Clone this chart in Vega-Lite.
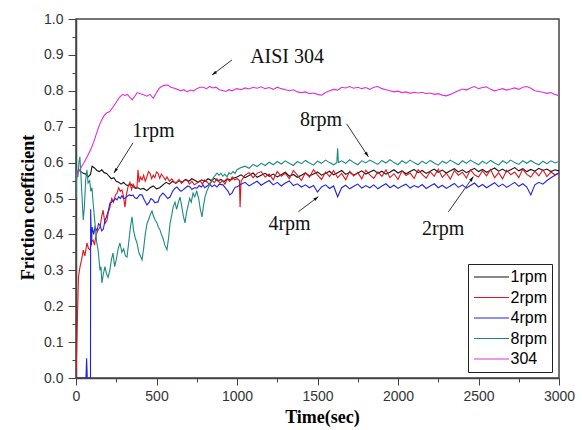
{
"$schema": "https://vega.github.io/schema/vega-lite/v6.json",
"width": 483, "height": 359,
"autosize": {"type": "none"},
"padding": {"left": 76, "top": 19, "right": 23, "bottom": 52},
"background": "white",
"config": {"view": {"stroke": "#444", "strokeWidth": 1.5}, "font": "Liberation Sans"},
"datasets": {
"lines": [
{"s":"1rpm","t":0,"f":0.55},{"s":"1rpm","t":15,"f":0.58},{"s":"1rpm","t":30,"f":0.575},{"s":"1rpm","t":45,"f":0.57},{"s":"1rpm","t":60,"f":0.568},{"s":"1rpm","t":75,"f":0.56},{"s":"1rpm","t":90,"f":0.567},{"s":"1rpm","t":100,"f":0.59},{"s":"1rpm","t":115,"f":0.585},{"s":"1rpm","t":130,"f":0.578},{"s":"1rpm","t":145,"f":0.575},{"s":"1rpm","t":160,"f":0.58},{"s":"1rpm","t":175,"f":0.572},{"s":"1rpm","t":190,"f":0.57},{"s":"1rpm","t":205,"f":0.562},{"s":"1rpm","t":220,"f":0.555},{"s":"1rpm","t":235,"f":0.558},{"s":"1rpm","t":250,"f":0.548},{"s":"1rpm","t":265,"f":0.545},{"s":"1rpm","t":280,"f":0.54},{"s":"1rpm","t":295,"f":0.545},{"s":"1rpm","t":310,"f":0.538},{"s":"1rpm","t":325,"f":0.536},{"s":"1rpm","t":340,"f":0.54},{"s":"1rpm","t":355,"f":0.533},{"s":"1rpm","t":370,"f":0.528},{"s":"1rpm","t":385,"f":0.53},{"s":"1rpm","t":400,"f":0.526},{"s":"1rpm","t":420,"f":0.528},{"s":"1rpm","t":440,"f":0.522},{"s":"1rpm","t":460,"f":0.53},{"s":"1rpm","t":480,"f":0.535},{"s":"1rpm","t":500,"f":0.527},{"s":"1rpm","t":520,"f":0.53},{"s":"1rpm","t":540,"f":0.538},{"s":"1rpm","t":560,"f":0.545},{"s":"1rpm","t":580,"f":0.54},{"s":"1rpm","t":600,"f":0.548},{"s":"1rpm","t":620,"f":0.542},{"s":"1rpm","t":640,"f":0.55},{"s":"1rpm","t":660,"f":0.545},{"s":"1rpm","t":680,"f":0.553},{"s":"1rpm","t":700,"f":0.548},{"s":"1rpm","t":720,"f":0.555},{"s":"1rpm","t":740,"f":0.55},{"s":"1rpm","t":760,"f":0.545},{"s":"1rpm","t":780,"f":0.552},{"s":"1rpm","t":800,"f":0.547},{"s":"1rpm","t":820,"f":0.555},{"s":"1rpm","t":840,"f":0.55},{"s":"1rpm","t":860,"f":0.556},{"s":"1rpm","t":880,"f":0.549},{"s":"1rpm","t":900,"f":0.553},{"s":"1rpm","t":920,"f":0.547},{"s":"1rpm","t":940,"f":0.555},{"s":"1rpm","t":960,"f":0.551},{"s":"1rpm","t":980,"f":0.557},
{"s":"1rpm","t":1000,"f":0.56},{"s":"1rpm","t":1025,"f":0.566},{"s":"1rpm","t":1050,"f":0.558},{"s":"1rpm","t":1075,"f":0.564},{"s":"1rpm","t":1100,"f":0.571},{"s":"1rpm","t":1125,"f":0.559},{"s":"1rpm","t":1150,"f":0.565},{"s":"1rpm","t":1175,"f":0.57},{"s":"1rpm","t":1200,"f":0.562},{"s":"1rpm","t":1225,"f":0.568},{"s":"1rpm","t":1250,"f":0.56},{"s":"1rpm","t":1275,"f":0.566},{"s":"1rpm","t":1300,"f":0.573},{"s":"1rpm","t":1325,"f":0.562},{"s":"1rpm","t":1350,"f":0.567},{"s":"1rpm","t":1375,"f":0.559},{"s":"1rpm","t":1400,"f":0.565},{"s":"1rpm","t":1425,"f":0.571},{"s":"1rpm","t":1450,"f":0.563},{"s":"1rpm","t":1475,"f":0.568},{"s":"1rpm","t":1500,"f":0.574},{"s":"1rpm","t":1525,"f":0.565},{"s":"1rpm","t":1550,"f":0.57},{"s":"1rpm","t":1575,"f":0.576},{"s":"1rpm","t":1600,"f":0.566},{"s":"1rpm","t":1625,"f":0.572},{"s":"1rpm","t":1650,"f":0.578},{"s":"1rpm","t":1675,"f":0.567},{"s":"1rpm","t":1700,"f":0.573},{"s":"1rpm","t":1725,"f":0.565},{"s":"1rpm","t":1750,"f":0.571},{"s":"1rpm","t":1775,"f":0.577},{"s":"1rpm","t":1800,"f":0.568},{"s":"1rpm","t":1825,"f":0.574},{"s":"1rpm","t":1850,"f":0.579},{"s":"1rpm","t":1875,"f":0.57},{"s":"1rpm","t":1900,"f":0.576},{"s":"1rpm","t":1925,"f":0.568},{"s":"1rpm","t":1950,"f":0.573},{"s":"1rpm","t":1975,"f":0.58},{"s":"1rpm","t":2000,"f":0.571},{"s":"1rpm","t":2025,"f":0.577},{"s":"1rpm","t":2050,"f":0.569},{"s":"1rpm","t":2075,"f":0.575},{"s":"1rpm","t":2100,"f":0.581},{"s":"1rpm","t":2125,"f":0.572},{"s":"1rpm","t":2150,"f":0.578},{"s":"1rpm","t":2175,"f":0.57},{"s":"1rpm","t":2200,"f":0.576},{"s":"1rpm","t":2225,"f":0.582},{"s":"1rpm","t":2250,"f":0.573},{"s":"1rpm","t":2275,"f":0.579},{"s":"1rpm","t":2300,"f":0.571},{"s":"1rpm","t":2325,"f":0.577},{"s":"1rpm","t":2350,"f":0.583},{"s":"1rpm","t":2375,"f":0.574},{"s":"1rpm","t":2400,"f":0.58},{"s":"1rpm","t":2425,"f":0.572},{"s":"1rpm","t":2450,"f":0.578},{"s":"1rpm","t":2475,"f":0.584},{"s":"1rpm","t":2500,"f":0.575},{"s":"1rpm","t":2525,"f":0.581},{"s":"1rpm","t":2550,"f":0.573},{"s":"1rpm","t":2575,"f":0.579},{"s":"1rpm","t":2600,"f":0.585},{"s":"1rpm","t":2625,"f":0.576},{"s":"1rpm","t":2650,"f":0.582},{"s":"1rpm","t":2675,"f":0.574},{"s":"1rpm","t":2700,"f":0.58},{"s":"1rpm","t":2725,"f":0.586},{"s":"1rpm","t":2750,"f":0.577},{"s":"1rpm","t":2775,"f":0.583},{"s":"1rpm","t":2800,"f":0.575},{"s":"1rpm","t":2825,"f":0.581},{"s":"1rpm","t":2850,"f":0.576},{"s":"1rpm","t":2875,"f":0.584},{"s":"1rpm","t":2900,"f":0.578},{"s":"1rpm","t":2925,"f":0.582},{"s":"1rpm","t":2950,"f":0.575},{"s":"1rpm","t":2975,"f":0.58},{"s":"1rpm","t":3000,"f":0.577},
{"s":"2rpm","t":0,"f":0.0},{"s":"2rpm","t":8,"f":0.15},{"s":"2rpm","t":15,"f":0.28},{"s":"2rpm","t":25,"f":0.31},{"s":"2rpm","t":35,"f":0.33},{"s":"2rpm","t":45,"f":0.356},{"s":"2rpm","t":55,"f":0.34},{"s":"2rpm","t":68,"f":0.376},{"s":"2rpm","t":78,"f":0.36},{"s":"2rpm","t":87,"f":0.357},{"s":"2rpm","t":97,"f":0.38},{"s":"2rpm","t":106,"f":0.384},{"s":"2rpm","t":115,"f":0.37},{"s":"2rpm","t":125,"f":0.4},{"s":"2rpm","t":135,"f":0.41},{"s":"2rpm","t":149,"f":0.42},{"s":"2rpm","t":160,"f":0.45},{"s":"2rpm","t":168,"f":0.468},{"s":"2rpm","t":180,"f":0.43},{"s":"2rpm","t":193,"f":0.44},{"s":"2rpm","t":200,"f":0.46},{"s":"2rpm","t":211,"f":0.476},{"s":"2rpm","t":222,"f":0.5},{"s":"2rpm","t":233,"f":0.49},{"s":"2rpm","t":245,"f":0.51},{"s":"2rpm","t":255,"f":0.515},{"s":"2rpm","t":265,"f":0.53},{"s":"2rpm","t":275,"f":0.52},{"s":"2rpm","t":286,"f":0.524},{"s":"2rpm","t":295,"f":0.505},{"s":"2rpm","t":304,"f":0.476},{"s":"2rpm","t":313,"f":0.51},{"s":"2rpm","t":323,"f":0.532},{"s":"2rpm","t":335,"f":0.545},{"s":"2rpm","t":345,"f":0.525},{"s":"2rpm","t":355,"f":0.54},{"s":"2rpm","t":367,"f":0.53},{"s":"2rpm","t":379,"f":0.532},{"s":"2rpm","t":385,"f":0.58},{"s":"2rpm","t":392,"f":0.545},{"s":"2rpm","t":400,"f":0.56},{"s":"2rpm","t":410,"f":0.552},{"s":"2rpm","t":420,"f":0.565},{"s":"2rpm","t":430,"f":0.548},{"s":"2rpm","t":440,"f":0.56},{"s":"2rpm","t":450,"f":0.575},{"s":"2rpm","t":460,"f":0.57},{"s":"2rpm","t":470,"f":0.555},{"s":"2rpm","t":480,"f":0.565},{"s":"2rpm","t":490,"f":0.558},{"s":"2rpm","t":500,"f":0.574},{"s":"2rpm","t":510,"f":0.57},{"s":"2rpm","t":520,"f":0.556},{"s":"2rpm","t":530,"f":0.568},{"s":"2rpm","t":540,"f":0.562},{"s":"2rpm","t":555,"f":0.552},{"s":"2rpm","t":565,"f":0.56},{"s":"2rpm","t":580,"f":0.548},{"s":"2rpm","t":595,"f":0.555},{"s":"2rpm","t":610,"f":0.545},{"s":"2rpm","t":627,"f":0.546},{"s":"2rpm","t":640,"f":0.553},{"s":"2rpm","t":655,"f":0.542},{"s":"2rpm","t":670,"f":0.55},{"s":"2rpm","t":689,"f":0.552},{"s":"2rpm","t":705,"f":0.54},{"s":"2rpm","t":720,"f":0.548},{"s":"2rpm","t":735,"f":0.538},{"s":"2rpm","t":752,"f":0.543},{"s":"2rpm","t":770,"f":0.55},{"s":"2rpm","t":785,"f":0.54},{"s":"2rpm","t":800,"f":0.552},{"s":"2rpm","t":814,"f":0.546},{"s":"2rpm","t":830,"f":0.538},{"s":"2rpm","t":845,"f":0.55},{"s":"2rpm","t":860,"f":0.544},{"s":"2rpm","t":875,"f":0.555},{"s":"2rpm","t":894,"f":0.543},{"s":"2rpm","t":910,"f":0.55},{"s":"2rpm","t":925,"f":0.54},{"s":"2rpm","t":940,"f":0.555},{"s":"2rpm","t":955,"f":0.548},{"s":"2rpm","t":970,"f":0.56},{"s":"2rpm","t":985,"f":0.552},
{"s":"2rpm","t":1000,"f":0.555},{"s":"2rpm","t":1015,"f":0.55},{"s":"2rpm","t":1019,"f":0.476},{"s":"2rpm","t":1025,"f":0.548},{"s":"2rpm","t":1050,"f":0.565},{"s":"2rpm","t":1075,"f":0.572},{"s":"2rpm","t":1100,"f":0.558},{"s":"2rpm","t":1125,"f":0.57},{"s":"2rpm","t":1150,"f":0.575},{"s":"2rpm","t":1175,"f":0.56},{"s":"2rpm","t":1200,"f":0.568},{"s":"2rpm","t":1225,"f":0.552},{"s":"2rpm","t":1250,"f":0.575},{"s":"2rpm","t":1275,"f":0.562},{"s":"2rpm","t":1300,"f":0.57},{"s":"2rpm","t":1325,"f":0.555},{"s":"2rpm","t":1350,"f":0.578},{"s":"2rpm","t":1375,"f":0.565},{"s":"2rpm","t":1400,"f":0.55},{"s":"2rpm","t":1425,"f":0.572},{"s":"2rpm","t":1450,"f":0.56},{"s":"2rpm","t":1475,"f":0.58},{"s":"2rpm","t":1500,"f":0.566},{"s":"2rpm","t":1525,"f":0.553},{"s":"2rpm","t":1550,"f":0.574},{"s":"2rpm","t":1575,"f":0.561},{"s":"2rpm","t":1600,"f":0.578},{"s":"2rpm","t":1625,"f":0.558},{"s":"2rpm","t":1650,"f":0.57},{"s":"2rpm","t":1675,"f":0.552},{"s":"2rpm","t":1700,"f":0.576},{"s":"2rpm","t":1725,"f":0.563},{"s":"2rpm","t":1750,"f":0.572},{"s":"2rpm","t":1775,"f":0.555},{"s":"2rpm","t":1800,"f":0.579},{"s":"2rpm","t":1825,"f":0.566},{"s":"2rpm","t":1850,"f":0.556},{"s":"2rpm","t":1875,"f":0.574},{"s":"2rpm","t":1900,"f":0.562},{"s":"2rpm","t":1925,"f":0.58},{"s":"2rpm","t":1950,"f":0.558},{"s":"2rpm","t":1975,"f":0.569},{"s":"2rpm","t":2000,"f":0.553},{"s":"2rpm","t":2025,"f":0.577},{"s":"2rpm","t":2050,"f":0.564},{"s":"2rpm","t":2075,"f":0.571},{"s":"2rpm","t":2100,"f":0.556},{"s":"2rpm","t":2125,"f":0.58},{"s":"2rpm","t":2150,"f":0.567},{"s":"2rpm","t":2175,"f":0.557},{"s":"2rpm","t":2200,"f":0.575},{"s":"2rpm","t":2225,"f":0.562},{"s":"2rpm","t":2250,"f":0.582},{"s":"2rpm","t":2275,"f":0.559},{"s":"2rpm","t":2300,"f":0.571},{"s":"2rpm","t":2325,"f":0.554},{"s":"2rpm","t":2350,"f":0.578},{"s":"2rpm","t":2375,"f":0.565},{"s":"2rpm","t":2400,"f":0.573},{"s":"2rpm","t":2425,"f":0.557},{"s":"2rpm","t":2450,"f":0.58},{"s":"2rpm","t":2475,"f":0.566},{"s":"2rpm","t":2500,"f":0.56},{"s":"2rpm","t":2525,"f":0.577},{"s":"2rpm","t":2550,"f":0.563},{"s":"2rpm","t":2575,"f":0.581},{"s":"2rpm","t":2600,"f":0.558},{"s":"2rpm","t":2625,"f":0.572},{"s":"2rpm","t":2650,"f":0.555},{"s":"2rpm","t":2675,"f":0.579},{"s":"2rpm","t":2700,"f":0.566},{"s":"2rpm","t":2725,"f":0.574},{"s":"2rpm","t":2750,"f":0.558},{"s":"2rpm","t":2775,"f":0.582},{"s":"2rpm","t":2800,"f":0.567},{"s":"2rpm","t":2825,"f":0.56},{"s":"2rpm","t":2850,"f":0.576},{"s":"2rpm","t":2875,"f":0.563},{"s":"2rpm","t":2900,"f":0.58},{"s":"2rpm","t":2925,"f":0.561},{"s":"2rpm","t":2950,"f":0.574},{"s":"2rpm","t":2975,"f":0.566},{"s":"2rpm","t":3000,"f":0.57},
{"s":"4rpm","t":0,"f":0.0},{"s":"4rpm","t":62,"f":0.0},{"s":"4rpm","t":66,"f":0.055},{"s":"4rpm","t":70,"f":0.0},{"s":"4rpm","t":90,"f":0.0},{"s":"4rpm","t":91,"f":0.47},{"s":"4rpm","t":96,"f":0.37},{"s":"4rpm","t":100,"f":0.42},{"s":"4rpm","t":110,"f":0.4},{"s":"4rpm","t":118,"f":0.42},{"s":"4rpm","t":130,"f":0.41},{"s":"4rpm","t":140,"f":0.43},{"s":"4rpm","t":150,"f":0.425},{"s":"4rpm","t":160,"f":0.41},{"s":"4rpm","t":170,"f":0.415},{"s":"4rpm","t":180,"f":0.44},{"s":"4rpm","t":190,"f":0.45},{"s":"4rpm","t":200,"f":0.465},{"s":"4rpm","t":211,"f":0.487},{"s":"4rpm","t":222,"f":0.49},{"s":"4rpm","t":235,"f":0.495},{"s":"4rpm","t":245,"f":0.5},{"s":"4rpm","t":255,"f":0.496},{"s":"4rpm","t":265,"f":0.505},{"s":"4rpm","t":275,"f":0.5},{"s":"4rpm","t":285,"f":0.508},{"s":"4rpm","t":295,"f":0.5},{"s":"4rpm","t":304,"f":0.5},{"s":"4rpm","t":315,"f":0.505},{"s":"4rpm","t":330,"f":0.51},{"s":"4rpm","t":345,"f":0.508},{"s":"4rpm","t":354,"f":0.51},{"s":"4rpm","t":365,"f":0.502},{"s":"4rpm","t":379,"f":0.5},{"s":"4rpm","t":395,"f":0.51},{"s":"4rpm","t":410,"f":0.51},{"s":"4rpm","t":425,"f":0.495},{"s":"4rpm","t":441,"f":0.482},{"s":"4rpm","t":455,"f":0.49},{"s":"4rpm","t":465,"f":0.5},{"s":"4rpm","t":478,"f":0.496},{"s":"4rpm","t":490,"f":0.488},{"s":"4rpm","t":500,"f":0.49},{"s":"4rpm","t":509,"f":0.49},{"s":"4rpm","t":520,"f":0.505},{"s":"4rpm","t":530,"f":0.51},{"s":"4rpm","t":540,"f":0.515},{"s":"4rpm","t":555,"f":0.508},{"s":"4rpm","t":570,"f":0.5},{"s":"4rpm","t":584,"f":0.504},{"s":"4rpm","t":600,"f":0.52},{"s":"4rpm","t":613,"f":0.528},{"s":"4rpm","t":627,"f":0.532},{"s":"4rpm","t":640,"f":0.525},{"s":"4rpm","t":652,"f":0.52},{"s":"4rpm","t":665,"f":0.524},{"s":"4rpm","t":680,"f":0.53},{"s":"4rpm","t":695,"f":0.535},{"s":"4rpm","t":708,"f":0.532},{"s":"4rpm","t":720,"f":0.525},{"s":"4rpm","t":735,"f":0.53},{"s":"4rpm","t":752,"f":0.529},{"s":"4rpm","t":765,"f":0.536},{"s":"4rpm","t":778,"f":0.532},{"s":"4rpm","t":789,"f":0.538},{"s":"4rpm","t":800,"f":0.53},{"s":"4rpm","t":815,"f":0.535},{"s":"4rpm","t":830,"f":0.54},{"s":"4rpm","t":845,"f":0.533},{"s":"4rpm","t":860,"f":0.538},{"s":"4rpm","t":875,"f":0.532},{"s":"4rpm","t":890,"f":0.54},{"s":"4rpm","t":913,"f":0.538},{"s":"4rpm","t":930,"f":0.528},{"s":"4rpm","t":945,"f":0.52},{"s":"4rpm","t":955,"f":0.51},{"s":"4rpm","t":969,"f":0.515},{"s":"4rpm","t":980,"f":0.525},{"s":"4rpm","t":990,"f":0.532},
{"s":"4rpm","t":1000,"f":0.532},{"s":"4rpm","t":1025,"f":0.54},{"s":"4rpm","t":1050,"f":0.545},{"s":"4rpm","t":1075,"f":0.535},{"s":"4rpm","t":1100,"f":0.542},{"s":"4rpm","t":1125,"f":0.548},{"s":"4rpm","t":1150,"f":0.537},{"s":"4rpm","t":1175,"f":0.544},{"s":"4rpm","t":1200,"f":0.55},{"s":"4rpm","t":1225,"f":0.538},{"s":"4rpm","t":1250,"f":0.545},{"s":"4rpm","t":1275,"f":0.535},{"s":"4rpm","t":1300,"f":0.543},{"s":"4rpm","t":1325,"f":0.549},{"s":"4rpm","t":1350,"f":0.536},{"s":"4rpm","t":1375,"f":0.541},{"s":"4rpm","t":1400,"f":0.532},{"s":"4rpm","t":1425,"f":0.538},{"s":"4rpm","t":1450,"f":0.53},{"s":"4rpm","t":1475,"f":0.536},{"s":"4rpm","t":1500,"f":0.518},{"s":"4rpm","t":1525,"f":0.532},{"s":"4rpm","t":1550,"f":0.538},{"s":"4rpm","t":1575,"f":0.528},{"s":"4rpm","t":1600,"f":0.535},{"s":"4rpm","t":1625,"f":0.505},{"s":"4rpm","t":1650,"f":0.53},{"s":"4rpm","t":1675,"f":0.537},{"s":"4rpm","t":1700,"f":0.527},{"s":"4rpm","t":1725,"f":0.534},{"s":"4rpm","t":1750,"f":0.54},{"s":"4rpm","t":1775,"f":0.529},{"s":"4rpm","t":1800,"f":0.536},{"s":"4rpm","t":1825,"f":0.53},{"s":"4rpm","t":1850,"f":0.538},{"s":"4rpm","t":1875,"f":0.527},{"s":"4rpm","t":1900,"f":0.535},{"s":"4rpm","t":1925,"f":0.541},{"s":"4rpm","t":1950,"f":0.53},{"s":"4rpm","t":1975,"f":0.537},{"s":"4rpm","t":2000,"f":0.528},{"s":"4rpm","t":2025,"f":0.535},{"s":"4rpm","t":2050,"f":0.54},{"s":"4rpm","t":2075,"f":0.529},{"s":"4rpm","t":2100,"f":0.536},{"s":"4rpm","t":2125,"f":0.531},{"s":"4rpm","t":2150,"f":0.539},{"s":"4rpm","t":2175,"f":0.528},{"s":"4rpm","t":2200,"f":0.535},{"s":"4rpm","t":2225,"f":0.541},{"s":"4rpm","t":2250,"f":0.53},{"s":"4rpm","t":2275,"f":0.537},{"s":"4rpm","t":2300,"f":0.528},{"s":"4rpm","t":2325,"f":0.535},{"s":"4rpm","t":2350,"f":0.542},{"s":"4rpm","t":2375,"f":0.531},{"s":"4rpm","t":2400,"f":0.538},{"s":"4rpm","t":2425,"f":0.529},{"s":"4rpm","t":2450,"f":0.536},{"s":"4rpm","t":2475,"f":0.543},{"s":"4rpm","t":2500,"f":0.532},{"s":"4rpm","t":2525,"f":0.539},{"s":"4rpm","t":2550,"f":0.53},{"s":"4rpm","t":2575,"f":0.537},{"s":"4rpm","t":2600,"f":0.544},{"s":"4rpm","t":2625,"f":0.533},{"s":"4rpm","t":2650,"f":0.54},{"s":"4rpm","t":2675,"f":0.531},{"s":"4rpm","t":2700,"f":0.538},{"s":"4rpm","t":2725,"f":0.545},{"s":"4rpm","t":2750,"f":0.534},{"s":"4rpm","t":2775,"f":0.541},{"s":"4rpm","t":2800,"f":0.532},{"s":"4rpm","t":2825,"f":0.51},{"s":"4rpm","t":2850,"f":0.538},{"s":"4rpm","t":2875,"f":0.545},{"s":"4rpm","t":2900,"f":0.54},{"s":"4rpm","t":2925,"f":0.55},{"s":"4rpm","t":2950,"f":0.558},{"s":"4rpm","t":2975,"f":0.565},{"s":"4rpm","t":3000,"f":0.572},
{"s":"8rpm","t":0,"f":0.5},{"s":"8rpm","t":5,"f":0.58},{"s":"8rpm","t":12,"f":0.56},{"s":"8rpm","t":18,"f":0.6},{"s":"8rpm","t":24,"f":0.616},{"s":"8rpm","t":30,"f":0.57},{"s":"8rpm","t":38,"f":0.5},{"s":"8rpm","t":45,"f":0.44},{"s":"8rpm","t":52,"f":0.476},{"s":"8rpm","t":60,"f":0.55},{"s":"8rpm","t":68,"f":0.58},{"s":"8rpm","t":75,"f":0.543},{"s":"8rpm","t":85,"f":0.55},{"s":"8rpm","t":92,"f":0.52},{"s":"8rpm","t":99,"f":0.53},{"s":"8rpm","t":108,"f":0.48},{"s":"8rpm","t":118,"f":0.43},{"s":"8rpm","t":128,"f":0.38},{"s":"8rpm","t":137,"f":0.357},{"s":"8rpm","t":143,"f":0.33},{"s":"8rpm","t":149,"f":0.3},{"s":"8rpm","t":155,"f":0.31},{"s":"8rpm","t":161,"f":0.265},{"s":"8rpm","t":170,"f":0.29},{"s":"8rpm","t":180,"f":0.31},{"s":"8rpm","t":190,"f":0.29},{"s":"8rpm","t":199,"f":0.28},{"s":"8rpm","t":210,"f":0.3},{"s":"8rpm","t":220,"f":0.33},{"s":"8rpm","t":230,"f":0.348},{"s":"8rpm","t":240,"f":0.31},{"s":"8rpm","t":250,"f":0.33},{"s":"8rpm","t":262,"f":0.36},{"s":"8rpm","t":273,"f":0.376},{"s":"8rpm","t":285,"f":0.35},{"s":"8rpm","t":296,"f":0.36},{"s":"8rpm","t":307,"f":0.34},{"s":"8rpm","t":317,"f":0.337},{"s":"8rpm","t":328,"f":0.38},{"s":"8rpm","t":338,"f":0.42},{"s":"8rpm","t":348,"f":0.449},{"s":"8rpm","t":358,"f":0.41},{"s":"8rpm","t":368,"f":0.39},{"s":"8rpm","t":379,"f":0.376},{"s":"8rpm","t":390,"f":0.35},{"s":"8rpm","t":400,"f":0.34},{"s":"8rpm","t":410,"f":0.329},{"s":"8rpm","t":420,"f":0.36},{"s":"8rpm","t":430,"f":0.4},{"s":"8rpm","t":441,"f":0.43},{"s":"8rpm","t":450,"f":0.44},{"s":"8rpm","t":461,"f":0.455},{"s":"8rpm","t":472,"f":0.465},{"s":"8rpm","t":482,"f":0.45},{"s":"8rpm","t":492,"f":0.44},{"s":"8rpm","t":503,"f":0.432},{"s":"8rpm","t":512,"f":0.42},{"s":"8rpm","t":522,"f":0.412},{"s":"8rpm","t":530,"f":0.4},{"s":"8rpm","t":540,"f":0.39},{"s":"8rpm","t":552,"f":0.37},{"s":"8rpm","t":565,"f":0.357},{"s":"8rpm","t":575,"f":0.39},{"s":"8rpm","t":584,"f":0.43},{"s":"8rpm","t":595,"f":0.455},{"s":"8rpm","t":603,"f":0.476},{"s":"8rpm","t":615,"f":0.49},{"s":"8rpm","t":625,"f":0.47},{"s":"8rpm","t":636,"f":0.49},{"s":"8rpm","t":646,"f":0.504},{"s":"8rpm","t":656,"f":0.48},{"s":"8rpm","t":667,"f":0.45},{"s":"8rpm","t":677,"f":0.432},{"s":"8rpm","t":686,"f":0.46},{"s":"8rpm","t":696,"f":0.48},{"s":"8rpm","t":706,"f":0.5},{"s":"8rpm","t":716,"f":0.49},{"s":"8rpm","t":727,"f":0.515},{"s":"8rpm","t":737,"f":0.505},{"s":"8rpm","t":750,"f":0.52},{"s":"8rpm","t":762,"f":0.5},{"s":"8rpm","t":772,"f":0.47},{"s":"8rpm","t":783,"f":0.449},{"s":"8rpm","t":792,"f":0.48},{"s":"8rpm","t":801,"f":0.504},{"s":"8rpm","t":812,"f":0.52},{"s":"8rpm","t":822,"f":0.53},{"s":"8rpm","t":832,"f":0.543},{"s":"8rpm","t":845,"f":0.55},{"s":"8rpm","t":855,"f":0.56},{"s":"8rpm","t":866,"f":0.565},{"s":"8rpm","t":876,"f":0.571},{"s":"8rpm","t":888,"f":0.565},{"s":"8rpm","t":900,"f":0.57},{"s":"8rpm","t":913,"f":0.562},{"s":"8rpm","t":925,"f":0.568},{"s":"8rpm","t":938,"f":0.56},{"s":"8rpm","t":950,"f":0.572},{"s":"8rpm","t":962,"f":0.568},{"s":"8rpm","t":975,"f":0.575},{"s":"8rpm","t":988,"f":0.57},
{"s":"8rpm","t":1000,"f":0.58},{"s":"8rpm","t":1025,"f":0.586},{"s":"8rpm","t":1050,"f":0.59},{"s":"8rpm","t":1075,"f":0.584},{"s":"8rpm","t":1100,"f":0.595},{"s":"8rpm","t":1125,"f":0.589},{"s":"8rpm","t":1150,"f":0.598},{"s":"8rpm","t":1175,"f":0.592},{"s":"8rpm","t":1200,"f":0.601},{"s":"8rpm","t":1225,"f":0.594},{"s":"8rpm","t":1250,"f":0.603},{"s":"8rpm","t":1275,"f":0.596},{"s":"8rpm","t":1300,"f":0.605},{"s":"8rpm","t":1325,"f":0.598},{"s":"8rpm","t":1350,"f":0.592},{"s":"8rpm","t":1375,"f":0.603},{"s":"8rpm","t":1400,"f":0.597},{"s":"8rpm","t":1425,"f":0.606},{"s":"8rpm","t":1450,"f":0.599},{"s":"8rpm","t":1475,"f":0.593},{"s":"8rpm","t":1500,"f":0.604},{"s":"8rpm","t":1525,"f":0.598},{"s":"8rpm","t":1550,"f":0.607},{"s":"8rpm","t":1575,"f":0.6},{"s":"8rpm","t":1600,"f":0.594},{"s":"8rpm","t":1620,"f":0.6},{"s":"8rpm","t":1625,"f":0.64},{"s":"8rpm","t":1630,"f":0.6},{"s":"8rpm","t":1650,"f":0.605},{"s":"8rpm","t":1675,"f":0.598},{"s":"8rpm","t":1700,"f":0.608},{"s":"8rpm","t":1725,"f":0.6},{"s":"8rpm","t":1750,"f":0.594},{"s":"8rpm","t":1775,"f":0.605},{"s":"8rpm","t":1800,"f":0.599},{"s":"8rpm","t":1825,"f":0.607},{"s":"8rpm","t":1850,"f":0.601},{"s":"8rpm","t":1875,"f":0.595},{"s":"8rpm","t":1900,"f":0.606},{"s":"8rpm","t":1925,"f":0.599},{"s":"8rpm","t":1950,"f":0.608},{"s":"8rpm","t":1975,"f":0.6},{"s":"8rpm","t":2000,"f":0.594},{"s":"8rpm","t":2025,"f":0.605},{"s":"8rpm","t":2050,"f":0.598},{"s":"8rpm","t":2075,"f":0.607},{"s":"8rpm","t":2100,"f":0.6},{"s":"8rpm","t":2125,"f":0.594},{"s":"8rpm","t":2150,"f":0.604},{"s":"8rpm","t":2175,"f":0.597},{"s":"8rpm","t":2200,"f":0.606},{"s":"8rpm","t":2225,"f":0.599},{"s":"8rpm","t":2250,"f":0.593},{"s":"8rpm","t":2275,"f":0.604},{"s":"8rpm","t":2300,"f":0.598},{"s":"8rpm","t":2325,"f":0.607},{"s":"8rpm","t":2350,"f":0.6},{"s":"8rpm","t":2375,"f":0.594},{"s":"8rpm","t":2400,"f":0.605},{"s":"8rpm","t":2425,"f":0.598},{"s":"8rpm","t":2450,"f":0.607},{"s":"8rpm","t":2475,"f":0.6},{"s":"8rpm","t":2500,"f":0.594},{"s":"8rpm","t":2525,"f":0.604},{"s":"8rpm","t":2550,"f":0.597},{"s":"8rpm","t":2575,"f":0.606},{"s":"8rpm","t":2600,"f":0.599},{"s":"8rpm","t":2625,"f":0.593},{"s":"8rpm","t":2650,"f":0.605},{"s":"8rpm","t":2675,"f":0.598},{"s":"8rpm","t":2700,"f":0.607},{"s":"8rpm","t":2725,"f":0.6},{"s":"8rpm","t":2750,"f":0.595},{"s":"8rpm","t":2775,"f":0.605},{"s":"8rpm","t":2800,"f":0.598},{"s":"8rpm","t":2825,"f":0.606},{"s":"8rpm","t":2850,"f":0.599},{"s":"8rpm","t":2875,"f":0.594},{"s":"8rpm","t":2900,"f":0.604},{"s":"8rpm","t":2925,"f":0.597},{"s":"8rpm","t":2950,"f":0.605},{"s":"8rpm","t":2975,"f":0.599},{"s":"8rpm","t":3000,"f":0.603},
{"s":"304","t":0,"f":0.56},{"s":"304","t":15,"f":0.575},{"s":"304","t":30,"f":0.585},{"s":"304","t":50,"f":0.6},{"s":"304","t":70,"f":0.617},{"s":"304","t":90,"f":0.635},{"s":"304","t":110,"f":0.657},{"s":"304","t":130,"f":0.685},{"s":"304","t":150,"f":0.71},{"s":"304","t":170,"f":0.728},{"s":"304","t":190,"f":0.738},{"s":"304","t":210,"f":0.742},{"s":"304","t":230,"f":0.755},{"s":"304","t":250,"f":0.768},{"s":"304","t":270,"f":0.782},{"s":"304","t":290,"f":0.79},{"s":"304","t":305,"f":0.787},{"s":"304","t":320,"f":0.79},{"s":"304","t":335,"f":0.782},{"s":"304","t":350,"f":0.775},{"s":"304","t":365,"f":0.785},{"s":"304","t":380,"f":0.795},{"s":"304","t":400,"f":0.792},{"s":"304","t":420,"f":0.789},{"s":"304","t":440,"f":0.785},{"s":"304","t":460,"f":0.79},{"s":"304","t":480,"f":0.779},{"s":"304","t":500,"f":0.795},{"s":"304","t":515,"f":0.806},{"s":"304","t":530,"f":0.812},{"s":"304","t":550,"f":0.815},{"s":"304","t":570,"f":0.816},{"s":"304","t":590,"f":0.81},{"s":"304","t":610,"f":0.807},{"s":"304","t":630,"f":0.804},{"s":"304","t":650,"f":0.8},{"s":"304","t":670,"f":0.803},{"s":"304","t":690,"f":0.797},{"s":"304","t":710,"f":0.802},{"s":"304","t":730,"f":0.8},{"s":"304","t":750,"f":0.806},{"s":"304","t":770,"f":0.81},{"s":"304","t":790,"f":0.81},{"s":"304","t":810,"f":0.806},{"s":"304","t":830,"f":0.812},{"s":"304","t":850,"f":0.808},{"s":"304","t":870,"f":0.81},{"s":"304","t":890,"f":0.803},{"s":"304","t":910,"f":0.801},{"s":"304","t":930,"f":0.798},{"s":"304","t":950,"f":0.803},{"s":"304","t":970,"f":0.8},{"s":"304","t":990,"f":0.805},
{"s":"304","t":1000,"f":0.806},{"s":"304","t":1025,"f":0.803},{"s":"304","t":1050,"f":0.808},{"s":"304","t":1075,"f":0.805},{"s":"304","t":1100,"f":0.81},{"s":"304","t":1125,"f":0.807},{"s":"304","t":1150,"f":0.811},{"s":"304","t":1175,"f":0.806},{"s":"304","t":1200,"f":0.809},{"s":"304","t":1225,"f":0.804},{"s":"304","t":1250,"f":0.81},{"s":"304","t":1275,"f":0.806},{"s":"304","t":1300,"f":0.803},{"s":"304","t":1325,"f":0.8},{"s":"304","t":1350,"f":0.803},{"s":"304","t":1375,"f":0.797},{"s":"304","t":1400,"f":0.795},{"s":"304","t":1425,"f":0.797},{"s":"304","t":1450,"f":0.792},{"s":"304","t":1475,"f":0.794},{"s":"304","t":1500,"f":0.79},{"s":"304","t":1525,"f":0.788},{"s":"304","t":1550,"f":0.795},{"s":"304","t":1575,"f":0.8},{"s":"304","t":1600,"f":0.804},{"s":"304","t":1625,"f":0.802},{"s":"304","t":1650,"f":0.81},{"s":"304","t":1675,"f":0.808},{"s":"304","t":1700,"f":0.812},{"s":"304","t":1725,"f":0.807},{"s":"304","t":1750,"f":0.81},{"s":"304","t":1775,"f":0.806},{"s":"304","t":1800,"f":0.809},{"s":"304","t":1825,"f":0.804},{"s":"304","t":1850,"f":0.81},{"s":"304","t":1875,"f":0.812},{"s":"304","t":1900,"f":0.806},{"s":"304","t":1925,"f":0.803},{"s":"304","t":1950,"f":0.8},{"s":"304","t":1975,"f":0.797},{"s":"304","t":2000,"f":0.799},{"s":"304","t":2025,"f":0.795},{"s":"304","t":2050,"f":0.797},{"s":"304","t":2075,"f":0.793},{"s":"304","t":2100,"f":0.796},{"s":"304","t":2125,"f":0.794},{"s":"304","t":2150,"f":0.796},{"s":"304","t":2175,"f":0.792},{"s":"304","t":2200,"f":0.794},{"s":"304","t":2225,"f":0.79},{"s":"304","t":2250,"f":0.792},{"s":"304","t":2275,"f":0.788},{"s":"304","t":2300,"f":0.786},{"s":"304","t":2325,"f":0.79},{"s":"304","t":2350,"f":0.795},{"s":"304","t":2375,"f":0.8},{"s":"304","t":2400,"f":0.805},{"s":"304","t":2425,"f":0.802},{"s":"304","t":2450,"f":0.808},{"s":"304","t":2475,"f":0.812},{"s":"304","t":2500,"f":0.806},{"s":"304","t":2525,"f":0.809},{"s":"304","t":2550,"f":0.811},{"s":"304","t":2575,"f":0.804},{"s":"304","t":2600,"f":0.8},{"s":"304","t":2625,"f":0.803},{"s":"304","t":2650,"f":0.806},{"s":"304","t":2675,"f":0.802},{"s":"304","t":2700,"f":0.805},{"s":"304","t":2725,"f":0.808},{"s":"304","t":2750,"f":0.804},{"s":"304","t":2775,"f":0.81},{"s":"304","t":2800,"f":0.812},{"s":"304","t":2825,"f":0.807},{"s":"304","t":2850,"f":0.8},{"s":"304","t":2875,"f":0.798},{"s":"304","t":2900,"f":0.796},{"s":"304","t":2925,"f":0.793},{"s":"304","t":2950,"f":0.795},{"s":"304","t":2975,"f":0.79},{"s":"304","t":3000,"f":0.786}
],
"ann": [
{"label":"AISI 304","lt":1311,"lf":0.877,"t":969,"f":0.886,"t2":845,"f2":0.844},
{"label":"1rpm","lt":481,"lf":0.671,"t":354,"f":0.655,"t2":236,"f2":0.571},
{"label":"8rpm","lt":1522,"lf":0.702,"t":1681,"f":0.708,"t2":1816,"f2":0.616},
{"label":"4rpm","lt":1326,"lf":0.412,"t":1381,"f":0.463,"t2":1505,"f2":0.505},
{"label":"2rpm","lt":2280,"lf":0.398,"t":2313,"f":0.463,"t2":2468,"f2":0.561}
]
},
"layer": [
{
"data": {"name": "lines"},
"mark": {"type": "line", "strokeWidth": 1.1, "clip": true},
"encoding": {
"x": {"field": "t", "type": "quantitative", "scale": {"domain": [0, 3000], "nice": false, "zero": false},
"axis": {"orient": "bottom", "values": [0, 500, 1000, 1500, 2000, 2500, 3000], "format": "d", "title": "Time(sec)",
"titleFont": "Liberation Serif", "titleFontSize": 18, "titleFontWeight": "bold", "titleColor": "#000", "titleY": 44, "titleX": 246, "titleBaseline": "alphabetic",
"labelFont": "Liberation Sans", "labelFontSize": 14, "labelColor": "#333", "labelBaseline": "alphabetic", "labelPadding": 15, "labelFlush": false, "labelOverlap": false,
"tickSize": 7, "tickColor": "#444", "tickWidth": 1, "domainColor": "#444", "domainWidth": 1.5, "grid": false}},
"y": {"field": "f", "type": "quantitative", "scale": {"domain": [0, 1], "nice": false, "zero": false},
"axis": {"orient": "left", "values": [0, 0.1, 0.2, 0.3, 0.4, 0.5, 0.6, 0.7, 0.8, 0.9, 1.0], "format": ".1f", "title": "Friction coefficient",
"titleFont": "Liberation Serif", "titleFontSize": 18, "titleFontWeight": "bold", "titleColor": "#000", "titleX": -43, "titleY": 188, "titleBaseline": "alphabetic", "titleAngle": 270,
"labelFont": "Liberation Sans", "labelFontSize": 14, "labelColor": "#333", "labelPadding": 5, "labelFlush": false, "labelOverlap": false,
"tickSize": 8, "tickColor": "#444", "tickWidth": 1, "domainColor": "#444", "domainWidth": 1.5, "grid": false}},
"color": {"field": "s", "type": "nominal",
"scale": {"domain": ["1rpm", "2rpm", "4rpm", "8rpm", "304"], "range": ["#111111", "#e3141b", "#2222e6", "#1b8c7e", "#e02ee0"]},
"legend": {"orient": "none", "legendX": 392, "legendY": 245, "title": null, "strokeColor": "#222", "fillColor": "white", "padding": 5,
"symbolType": "M-2.5,0H2.5", "symbolSize": 196, "symbolStrokeWidth": 1, "symbolOffset": 10.5,
"labelFont": "Liberation Sans", "labelFontSize": 16, "labelColor": "#000", "labelOffset": 11, "rowPadding": 4.5}}
}
},
{
"data": {"name": "ann"},
"mark": {"type": "text", "font": "Liberation Serif", "fontSize": 20, "align": "center", "baseline": "alphabetic", "color": "#111"},
"encoding": {
"x": {"field": "lt", "type": "quantitative", "scale": {"domain": [0, 3000], "nice": false, "zero": false},
"axis": {"orient": "bottom", "values": [250, 750, 1250, 1750, 2250, 2750], "labels": false, "domain": false, "grid": false, "title": null, "tickSize": 4, "tickColor": "#444", "tickWidth": 1}},
"y": {"field": "lf", "type": "quantitative", "scale": {"domain": [0, 1], "nice": false, "zero": false},
"axis": {"orient": "left", "values": [0.05, 0.15, 0.25, 0.35, 0.45, 0.55, 0.65, 0.75, 0.85, 0.95], "labels": false, "domain": false, "grid": false, "title": null, "tickSize": 4, "tickColor": "#444", "tickWidth": 1}},
"text": {"field": "label"}
}
},
{
"data": {"name": "ann"},
"mark": {"type": "rule", "color": "#333", "strokeWidth": 1},
"encoding": {
"x": {"field": "t", "type": "quantitative", "axis": null, "scale": {"domain": [0, 3000], "nice": false, "zero": false}},
"y": {"field": "f", "type": "quantitative", "axis": null, "scale": {"domain": [0, 1], "nice": false, "zero": false}},
"x2": {"field": "t2"},
"y2": {"field": "f2"}
}
},
{
"data": {"name": "ann"},
"transform": [{"calculate": "atan2((datum.t2 - datum.t) * 483 / 3000, (datum.f2 - datum.f) * 359) * 180 / PI", "as": "ang"}],
"mark": {"type": "point", "shape": "M0,0L-0.5,1.6L0.5,1.6Z", "filled": true, "color": "#111", "size": 40, "opacity": 1},
"encoding": {
"x": {"field": "t2", "type": "quantitative", "axis": null, "scale": {"domain": [0, 3000], "nice": false, "zero": false}},
"y": {"field": "f2", "type": "quantitative", "axis": null, "scale": {"domain": [0, 1], "nice": false, "zero": false}},
"angle": {"field": "ang", "type": "quantitative", "scale": null}
}
}
],
"resolve": {"axis": {"x": "independent", "y": "independent"}}
}
